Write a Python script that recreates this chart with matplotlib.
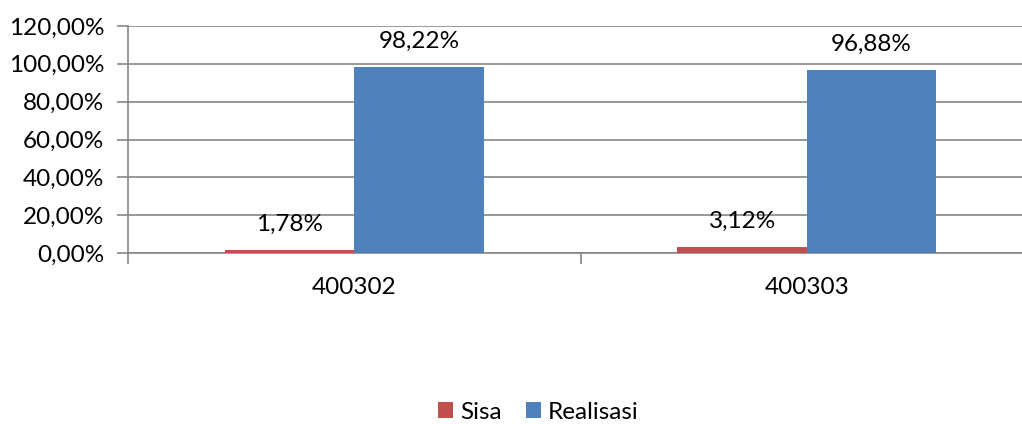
import matplotlib
matplotlib.use("Agg")
import matplotlib.pyplot as plt
from matplotlib.ticker import FixedLocator, FuncFormatter
import numpy as np

plt.rcParams["font.family"] = ["Lato", "DejaVu Sans"]

categories = ["400302", "400303"]
sisa = [1.78, 3.12]
realisasi = [98.22, 96.88]
series_names = ["Sisa", "Realisasi"]

RED = "#C0504D"
BLUE = "#4F81BD"
GRID = "#868686"
FS = 17.5

fig = plt.figure(figsize=(10.22, 4.24), dpi=100)
ax = fig.add_axes([128 / 1022, 171 / 424, 905 / 1022, 227 / 424])

x = np.arange(len(categories))
w = 1 / 3.5
b1 = ax.bar(x - w / 2, sisa, w, color=RED, label=series_names[0], zorder=3)
b2 = ax.bar(x + w / 2, realisasi, w, color=BLUE, label=series_names[1], zorder=3)

fmt = lambda v: f"{v:.2f}%".replace(".", ",")
ax.bar_label(b1, labels=[fmt(v) for v in sisa], padding=11, fontsize=FS)
ax.bar_label(b2, labels=[fmt(v) for v in realisasi], padding=11, fontsize=FS)

ax.set_ylim(0, 120)
ax.set_xlim(-0.5, len(categories) - 0.5)
ax.set_yticks(np.arange(0, 121, 20))
ax.yaxis.set_major_formatter(FuncFormatter(lambda v, p: fmt(v)))
ax.grid(axis="y", color=GRID, lw=1.2, zorder=0)

ax.set_xticks(x)
ax.set_xticklabels(categories)
ax.xaxis.set_minor_locator(FixedLocator(np.arange(-0.5, len(categories), 1)))
ax.tick_params(axis="x", which="major", length=0, pad=17, labelsize=FS)
ax.tick_params(axis="x", which="minor", length=8, color=GRID, width=1.2)
ax.tick_params(axis="y", length=8, color=GRID, width=1.2, labelsize=FS, pad=9)

for s in ["top", "right"]:
    ax.spines[s].set_visible(False)
for s in ["left", "bottom"]:
    ax.spines[s].set_color(GRID)
    ax.spines[s].set_linewidth(1.2)

fig.legend(loc="center", bbox_to_anchor=(0.527, 0.028), ncol=2, frameon=False,
           fontsize=FS, handlelength=0.6, handleheight=0.6, handletextpad=0.3,
           columnspacing=1.0)

fig.savefig("out.png", dpi=100)
